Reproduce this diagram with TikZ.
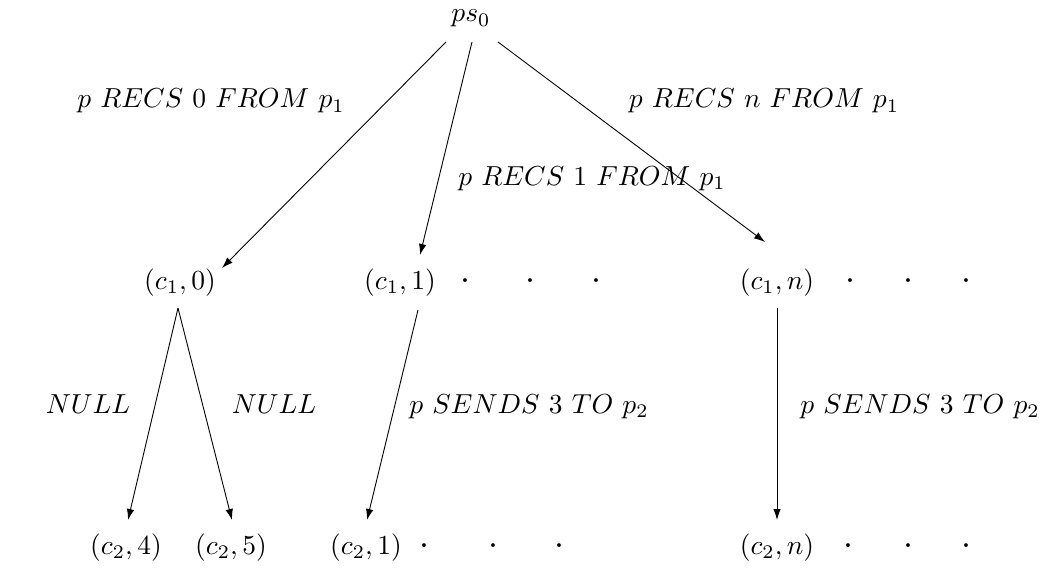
\documentclass[tikz,border=0pt]{standalone}
\usetikzlibrary{arrows.meta,calc}
\begin{document}
\begin{tikzpicture}[x=1pt,y=-1pt,
  every node/.style={scale=2.75, inner sep=0pt, anchor=base},
  dotnode/.style={scale=1.3},
  arr/.style={line width=0.9pt, -{Latex[length=11pt,width=7.5pt]}}]
\useasboundingbox (0,0) rectangle (1040,567);
% nodes
\node (ps0) at (471,22) {$ps_0$};
\node (c10) at (180,289) {$(c_1,0)$};
\node (c11) at (400,289) {$(c_1,1)$};
\node (c1n) at (777,289) {$(c_1,n)$};
\node (c24) at (126,554) {$(c_2,4)$};
\node (c25) at (231,554) {$(c_2,5)$};
\node (c21) at (366,554) {$(c_2,1)$};
\node (c2n) at (777,554) {$(c_2,n)$};
% dots
\foreach \x/\n in {465/a,530/b,596/c} \node[dotnode] (d1\n) at (\x,289) {$\cdot$};
\foreach \x/\n in {850/a,908/b,966/c} \node[dotnode] (dn1\n) at (\x,289) {$\cdot$};
\foreach \x/\n in {424/a,493/b,559/c} \node[dotnode] (d2\n) at (\x,554) {$\cdot$};
\foreach \x/\n in {848/a,908/b,966/c} \node[dotnode] (dn2\n) at (\x,554) {$\cdot$};
% labels
\node (l0) at (211,108) {$p\ RECS\ 0\ FROM\ p_1$};
\node (l1) at (592,185) {$p\ RECS\ 1\ FROM\ p_1$};
\node (ln) at (764,108) {$p\ RECS\ n\ FROM\ p_1$};
\node (n1) at (88,413) {$NULL$};
\node (n2) at (274,413) {$NULL$};
\node (s1) at (529,413) {$p\ SENDS\ 3\ TO\ p_2$};
\node (s2) at (920,413) {$p\ SENDS\ 3\ TO\ p_2$};
% arrows
\draw[arr] ($(ps0.base)+(-25,20)$) -- ($(c10.base)+(42,-21)$);
\draw[arr] ($(ps0.base)+(1,20)$) -- ($(c11.base)+(20,-34)$);
\draw[arr] ($(ps0.base)+(27,20)$) -- ($(c1n.base)+(-12,-47)$);
\draw[arr] ($(c10.base)+(-2,19)$) -- ($(c24.base)+(2,-34)$);
\draw[arr] ($(c10.base)+(-2,19)$) -- ($(c25.base)+(1,-34)$);
\draw[arr] ($(c11.base)+(18,21)$) -- ($(c21.base)+(1,-34)$);
\draw[arr] ($(c1n.base)+(0,19)$) -- ($(c2n.base)+(0,-34)$);
\end{tikzpicture}
\end{document}
